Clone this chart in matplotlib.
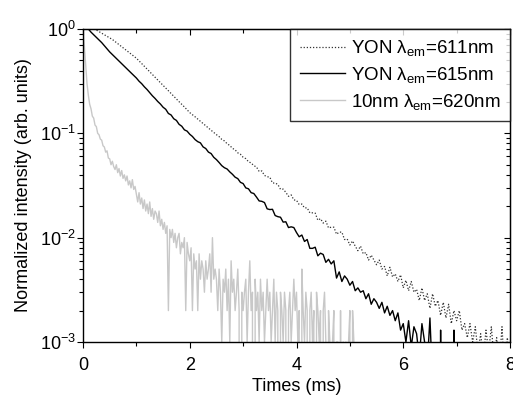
import matplotlib
matplotlib.use("Agg")
import numpy as np
import matplotlib.pyplot as plt
from matplotlib.ticker import LogLocator, NullFormatter, MultipleLocator

plt.rcParams['font.family'] = ['Liberation Sans', 'DejaVu Sans']
plt.rcParams['mathtext.fontset'] = 'custom'
plt.rcParams['mathtext.rm'] = 'Liberation Sans'
plt.rcParams['mathtext.it'] = 'Liberation Sans'

# YON, em = 611 nm (dotted), sampled every 0.05 ms from 0.20 ms
t611_start, t611_step = 0.20, 0.05
y611 = [
    1.000, 0.977, 0.944, 0.912, 0.881, 0.851, 0.822, 0.794, 0.759, 0.724,
    0.692, 0.661, 0.631, 0.603, 0.575, 0.550, 0.525, 0.494, 0.466, 0.439,
    0.413, 0.389, 0.366, 0.345, 0.325, 0.306, 0.288, 0.272, 0.256, 0.241,
    0.227, 0.214, 0.201, 0.190, 0.179, 0.168, 0.158, 0.151, 0.144, 0.137,
    0.130, 0.124, 0.118, 0.112, 0.107, 0.102, 0.0971, 0.0930, 0.0875, 0.0845,
    0.0795, 0.0765, 0.0718, 0.0695, 0.0650, 0.0630, 0.0590, 0.0572, 0.0535, 0.0520,
    0.0490, 0.0476, 0.0431, 0.0436, 0.0395, 0.0384, 0.0380, 0.0334, 0.0334, 0.0324,
    0.0291, 0.0292, 0.0272, 0.0249, 0.0257, 0.0230, 0.0228, 0.0208, 0.0210, 0.0193,
    0.0193, 0.0173, 0.0173, 0.0172, 0.0147, 0.0152, 0.0138, 0.0144, 0.0124, 0.0126,
    0.0126, 0.0108, 0.0113, 0.0113, 0.0096, 0.0097, 0.0085, 0.0093, 0.0083, 0.0075,
    0.0083, 0.0070, 0.0072, 0.0061, 0.0068, 0.0061, 0.0055, 0.0061, 0.0050, 0.0053,
    0.0043, 0.0052, 0.0042, 0.0045, 0.0038, 0.0044, 0.0033, 0.0039, 0.0031, 0.0038,
    0.0030, 0.0032, 0.0025, 0.0033, 0.0025, 0.0029, 0.0021, 0.0029, 0.0022, 0.0025,
    0.0018, 0.0024, 0.0017, 0.0023, 0.0015, 0.0020, 0.0016, 0.0020, 0.0013, 0.0015,
    0.0011, 0.0015, 0.0010, 0.0014, 0.0008, 0.0012, 0.0007, 0.0013, 0.0008, 0.0014,
    0.0007, 0.0011, 0.0006, 0.0014, 0.0005, 0.0011, 0.0006,
]

# YON, em = 615 nm (solid), sampled every 0.05 ms from 0.10 ms
t615_start, t615_step = 0.10, 0.05
y615 = [
    1.000, 0.933, 0.881, 0.832, 0.785, 0.741, 0.692, 0.646, 0.603, 0.569,
    0.537, 0.507, 0.479, 0.452, 0.427, 0.403, 0.380, 0.359, 0.339, 0.316,
    0.299, 0.279, 0.263, 0.245, 0.229, 0.216, 0.202, 0.191, 0.178, 0.170,
    0.155, 0.150, 0.138, 0.133, 0.122, 0.117, 0.108, 0.105, 0.098, 0.0933,
    0.0871, 0.0832, 0.0810, 0.0741, 0.0715, 0.0661, 0.0640, 0.0589, 0.0560, 0.0525,
    0.0490, 0.0468, 0.0455, 0.0427, 0.0405, 0.0380, 0.0368, 0.0339, 0.0330, 0.0300,
    0.0294, 0.0270, 0.0265, 0.0245, 0.0225, 0.0223, 0.0217, 0.0189, 0.0186, 0.0187,
    0.0163, 0.0159, 0.0157, 0.0141, 0.0142, 0.0125, 0.0127, 0.0125, 0.0112, 0.0102,
    0.0106, 0.0092, 0.0096, 0.0079, 0.0079, 0.0081, 0.0067, 0.0071, 0.0069, 0.0058,
    0.0062, 0.0056, 0.0060, 0.0041, 0.0047, 0.0038, 0.0043, 0.0040, 0.0035, 0.0038,
    0.0031, 0.0033, 0.0030, 0.0031, 0.0026, 0.0029, 0.0023, 0.0026, 0.0024, 0.0021,
    0.0024, 0.0019, 0.0022, 0.0018, 0.0020, 0.0016, 0.0019, 0.0013, 0.0015, 0.0010,
    0.0016, 0.0009, 0.0014, 0.0012, 0.0007, 0.0015, 0.0010, 0.0006, 0.0017, 0.0004,
    0.0, 0.0, 0.0013, 0.0, 0.0, 0.0, 0.0, 0.0013, 0.0,
]

# 10 nm, em = 620 nm (grey), counts per 1000, sampled every 0.025 ms from 0
t620_step = 0.025
c620 = [
    1000, 690, 450, 300, 232, 190, 172, 146, 140, 120, 116, 100, 97, 88, 86, 76, 74, 66, 68, 58,
    57, 50, 54, 48, 45, 50, 42, 46, 39, 44, 37, 40, 35, 39, 32, 35, 30, 36, 29, 31,
    26, 22, 27, 21, 24, 19, 23, 18, 21, 17, 22, 16, 19, 15, 18, 17, 14, 18, 13, 15,
    12, 14, 11, 13, 2, 12, 10, 12, 9, 11, 8, 10, 11, 7, 9, 8, 10, 2, 9, 7,
    6, 8, 2, 7, 5, 6, 2, 7, 4, 6, 5, 3, 6, 4, 5, 7, 3, 10, 4, 5,
    4, 2, 5, 3, 1, 4, 3, 5, 2, 4, 1, 6, 3, 4, 2, 3, 5, 2, 0, 3,
    2, 3, 4, 1, 3, 6, 2, 3, 0, 4, 2, 3, 1, 4, 2, 3, 1, 2, 4, 2,
    3, 1, 2, 4, 1, 3, 2, 0, 3, 2, 1, 3, 2, 0, 2, 3, 1, 2, 4, 2,
    3, 1, 2, 0, 5, 2, 1, 3, 2, 0, 2, 3, 1, 2, 0, 3, 2, 1, 2, 0,
    2, 3, 1, 0, 2, 1, 0, 1, 2, 0, 1, 1, 0, 2, 0, 1, 0, 1, 0, 1,
    2, 0, 2, 1, 0,
]

labels = ["YON λ$_{\\mathrm{em}}$=611nm",
          "YON λ$_{\\mathrm{em}}$=615nm",
          "10nm λ$_{\\mathrm{em}}$=620nm"]

t611 = t611_start + t611_step * np.arange(len(y611))
t615 = t615_start + t615_step * np.arange(len(y615))
t620 = t620_step * np.arange(len(c620))
y620 = np.array(c620) / 1000.0

fig = plt.figure(figsize=(5.13, 3.98), dpi=100)
ax = fig.add_axes([83 / 513, 56 / 398, 427 / 513, 313 / 398])

ax.plot(t611, y611, color='#333333', lw=0.9, linestyle=(0, (1, 1.5)), label=labels[0])
ax.plot(t615, y615, color='black', lw=1.0, label=labels[1])
ax.plot(t620, y620, color='#c8c8c8', lw=1.0, label=labels[2])

ax.set_yscale('log')
ax.set_xlim(0, 8)
ax.set_ylim(1e-3, 1)
ax.xaxis.set_major_locator(MultipleLocator(2))
ax.xaxis.set_minor_locator(MultipleLocator(1))
ax.yaxis.set_major_locator(LogLocator(base=10))
ax.yaxis.set_minor_locator(LogLocator(base=10, subs=np.arange(2, 10)))
ax.yaxis.set_minor_formatter(NullFormatter())

ax.tick_params(which='both', direction='out', labelsize=13, width=0.8)
ax.tick_params(axis='x', pad=7)
ax.tick_params(axis='y', pad=1)
ax.tick_params(which='major', length=4)
ax.tick_params(which='minor', length=3)
for s in ax.spines.values():
    s.set_linewidth(1.0)

# mirrored ticks on top and right, pointing inwards
top = ax.secondary_xaxis('top')
top.xaxis.set_major_locator(MultipleLocator(2))
top.xaxis.set_minor_locator(MultipleLocator(1))
top.tick_params(which='both', direction='in', labeltop=False, width=0.8)
top.tick_params(which='major', length=4)
top.tick_params(which='minor', length=3)
right = ax.secondary_yaxis('right')
right.yaxis.set_major_locator(LogLocator(base=10))
right.yaxis.set_minor_locator(LogLocator(base=10, subs=np.arange(2, 10)))
right.yaxis.set_minor_formatter(NullFormatter())
right.tick_params(which='both', direction='in', labelright=False, width=0.8)
right.tick_params(which='major', length=4)
right.tick_params(which='minor', length=3)

ax.set_xlabel("Times (ms)", fontsize=13, labelpad=3)
ax.set_ylabel("Normalized intensity (arb. units)", fontsize=13, labelpad=6)

leg = ax.legend(loc='upper right', fontsize=13.5, frameon=True, fancybox=False,
                borderaxespad=0, handlelength=2.4, handletextpad=0.35,
                labelspacing=0.35, borderpad=0.5)
leg.get_frame().set_edgecolor('black')
leg.get_frame().set_linewidth(1.0)

fig.savefig("out.png", dpi=100)
